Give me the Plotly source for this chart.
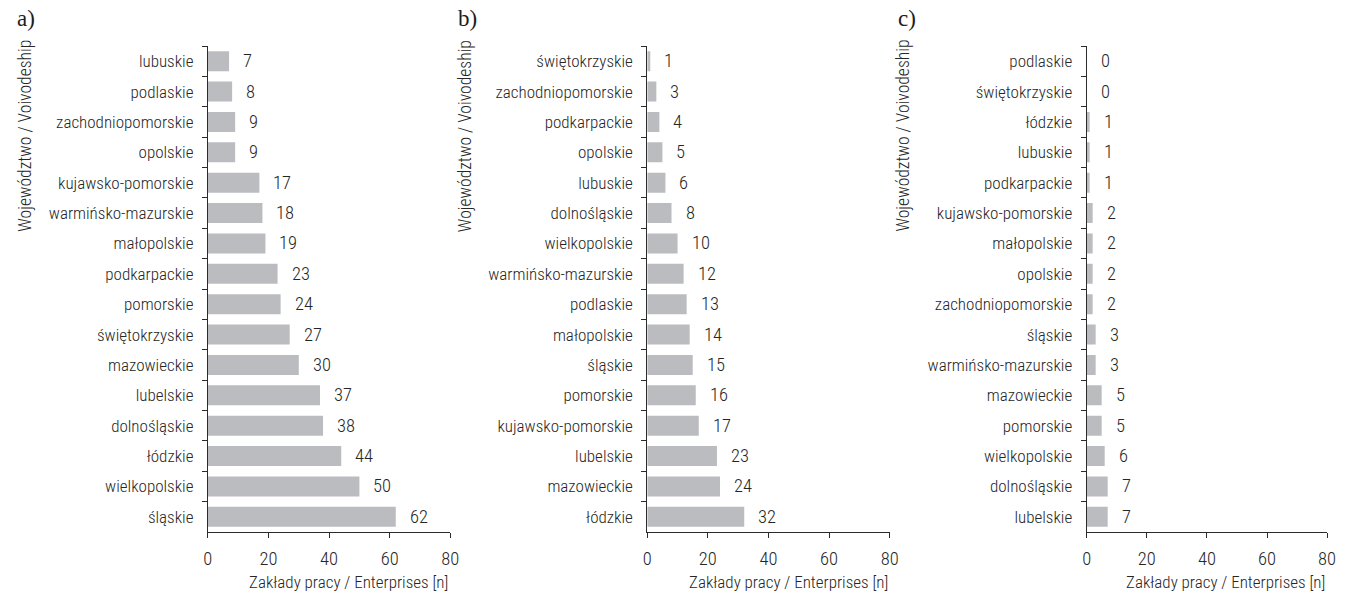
import plotly.graph_objects as go

# Panel a)
a_regions = ["lubuskie", "podlaskie", "zachodniopomorskie", "opolskie", "kujawsko-pomorskie",
             "warmińsko-mazurskie", "małopolskie", "podkarpackie", "pomorskie", "świętokrzyskie",
             "mazowieckie", "lubelskie", "dolnośląskie", "łódzkie", "wielkopolskie", "śląskie"]
a_values = [7, 8, 9, 9, 17, 18, 19, 23, 24, 27, 30, 37, 38, 44, 50, 62]

# Panel b)
b_regions = ["świętokrzyskie", "zachodniopomorskie", "podkarpackie", "opolskie", "lubuskie",
             "dolnośląskie", "wielkopolskie", "warmińsko-mazurskie", "podlaskie", "małopolskie",
             "śląskie", "pomorskie", "kujawsko-pomorskie", "lubelskie", "mazowieckie", "łódzkie"]
b_values = [1, 3, 4, 5, 6, 8, 10, 12, 13, 14, 15, 16, 17, 23, 24, 32]

# Panel c)
c_regions = ["podlaskie", "świętokrzyskie", "łódzkie", "lubuskie", "podkarpackie",
             "kujawsko-pomorskie", "małopolskie", "opolskie", "zachodniopomorskie", "śląskie",
             "warmińsko-mazurskie", "mazowieckie", "pomorskie", "wielkopolskie", "dolnośląskie",
             "lubelskie"]
c_values = [0, 0, 1, 1, 1, 2, 2, 2, 2, 3, 3, 5, 5, 6, 7, 7]

panel_labels = ["a)", "b)", "c)"]
x_ticks = [0, 20, 40, 60, 80]
x_title = "Zakłady pracy / Enterprises [n]"
y_title = "Województwo / Voivodeship"

W, H = 1347, 593
FONT = "Roboto Condensed, Liberation Sans Narrow, DejaVu Sans Condensed, sans-serif"
WEIGHT = 300
TXT = "#262626"
BAR = "#bbbcc0"
AXIS = "#2b2b2b"

# pixel layout of the three panels (left/right of the x axis)
panels_px = [(205, 450), (649, 894), (1093, 1336)]
y_top_px, y_bot_px = 46, 532
ytitle_x_px = [20, 465, 907]
plabel_x_px = [10, 456, 900]

fig = go.Figure()
data = [(a_regions, a_values), (b_regions, b_values), (c_regions, c_values)]


def font(size, color=TXT):
    return dict(family=FONT, size=size, color=color, weight=WEIGHT)


for i, (regions, values) in enumerate(data):
    n = "" if i == 0 else str(i + 1)
    fig.add_trace(go.Bar(
        x=values, y=regions, orientation="h",
        marker=dict(color=BAR, line=dict(width=0)),
        xaxis="x" + n, yaxis="y" + n, showlegend=False, hoverinfo="x+y",
    ))
    x0, x1 = panels_px[i]
    fig.update_layout(**{
        "xaxis" + n: dict(
            domain=[x0 / W, x1 / W], anchor="y" + n, range=[0, 80],
            tickvals=x_ticks, ticks="outside", ticklen=5, tickwidth=1, tickcolor=AXIS,
            showline=True, linecolor=AXIS, linewidth=1, showgrid=False, zeroline=False,
            tickfont=font(18.5), ticklabelstandoff=5,
        ),
        "yaxis" + n: dict(
            domain=[1 - y_bot_px / H, 1 - y_top_px / H], anchor="x" + n,
            autorange="reversed", type="category",
            ticks="outside", tickson="boundaries", ticklen=5, tickwidth=1, tickcolor=AXIS,
            showline=True, linecolor=AXIS, linewidth=1, showgrid=False,
            tickfont=font(17), ticklabelstandoff=10,
        ),
    })
    # value labels next to each bar
    for r, v in zip(regions, values):
        fig.add_annotation(
            x=v, y=r, xref="x" + n, yref="y" + n, text=str(v), showarrow=False,
            xanchor="left", xshift=12, font=font(18.5),
        )
    # axis titles
    fig.add_annotation(
        x=x1 / W, y=1 - 582 / H, xref="paper", yref="paper", text=x_title,
        showarrow=False, xanchor="right", yanchor="middle", font=font(17),
    )
    fig.add_annotation(
        x=ytitle_x_px[i] / W, y=1 - 38 / H, xref="paper", yref="paper", text=y_title,
        showarrow=False, textangle=-90, xanchor="center", yanchor="top", font=font(17.6),
    )
    fig.add_annotation(
        x=plabel_x_px[i] / W, y=1 - 18 / H, xref="paper", yref="paper", text=panel_labels[i],
        showarrow=False, xanchor="left", yanchor="middle",
        font=dict(family="Liberation Serif, serif", size=23, color="#1e1e1e"),
    )

fig.update_layout(
    width=W, height=H, margin=dict(l=0, r=0, t=0, b=0),
    paper_bgcolor="white", plot_bgcolor="white", bargap=0.34,
)

fig.write_html("out.html")
